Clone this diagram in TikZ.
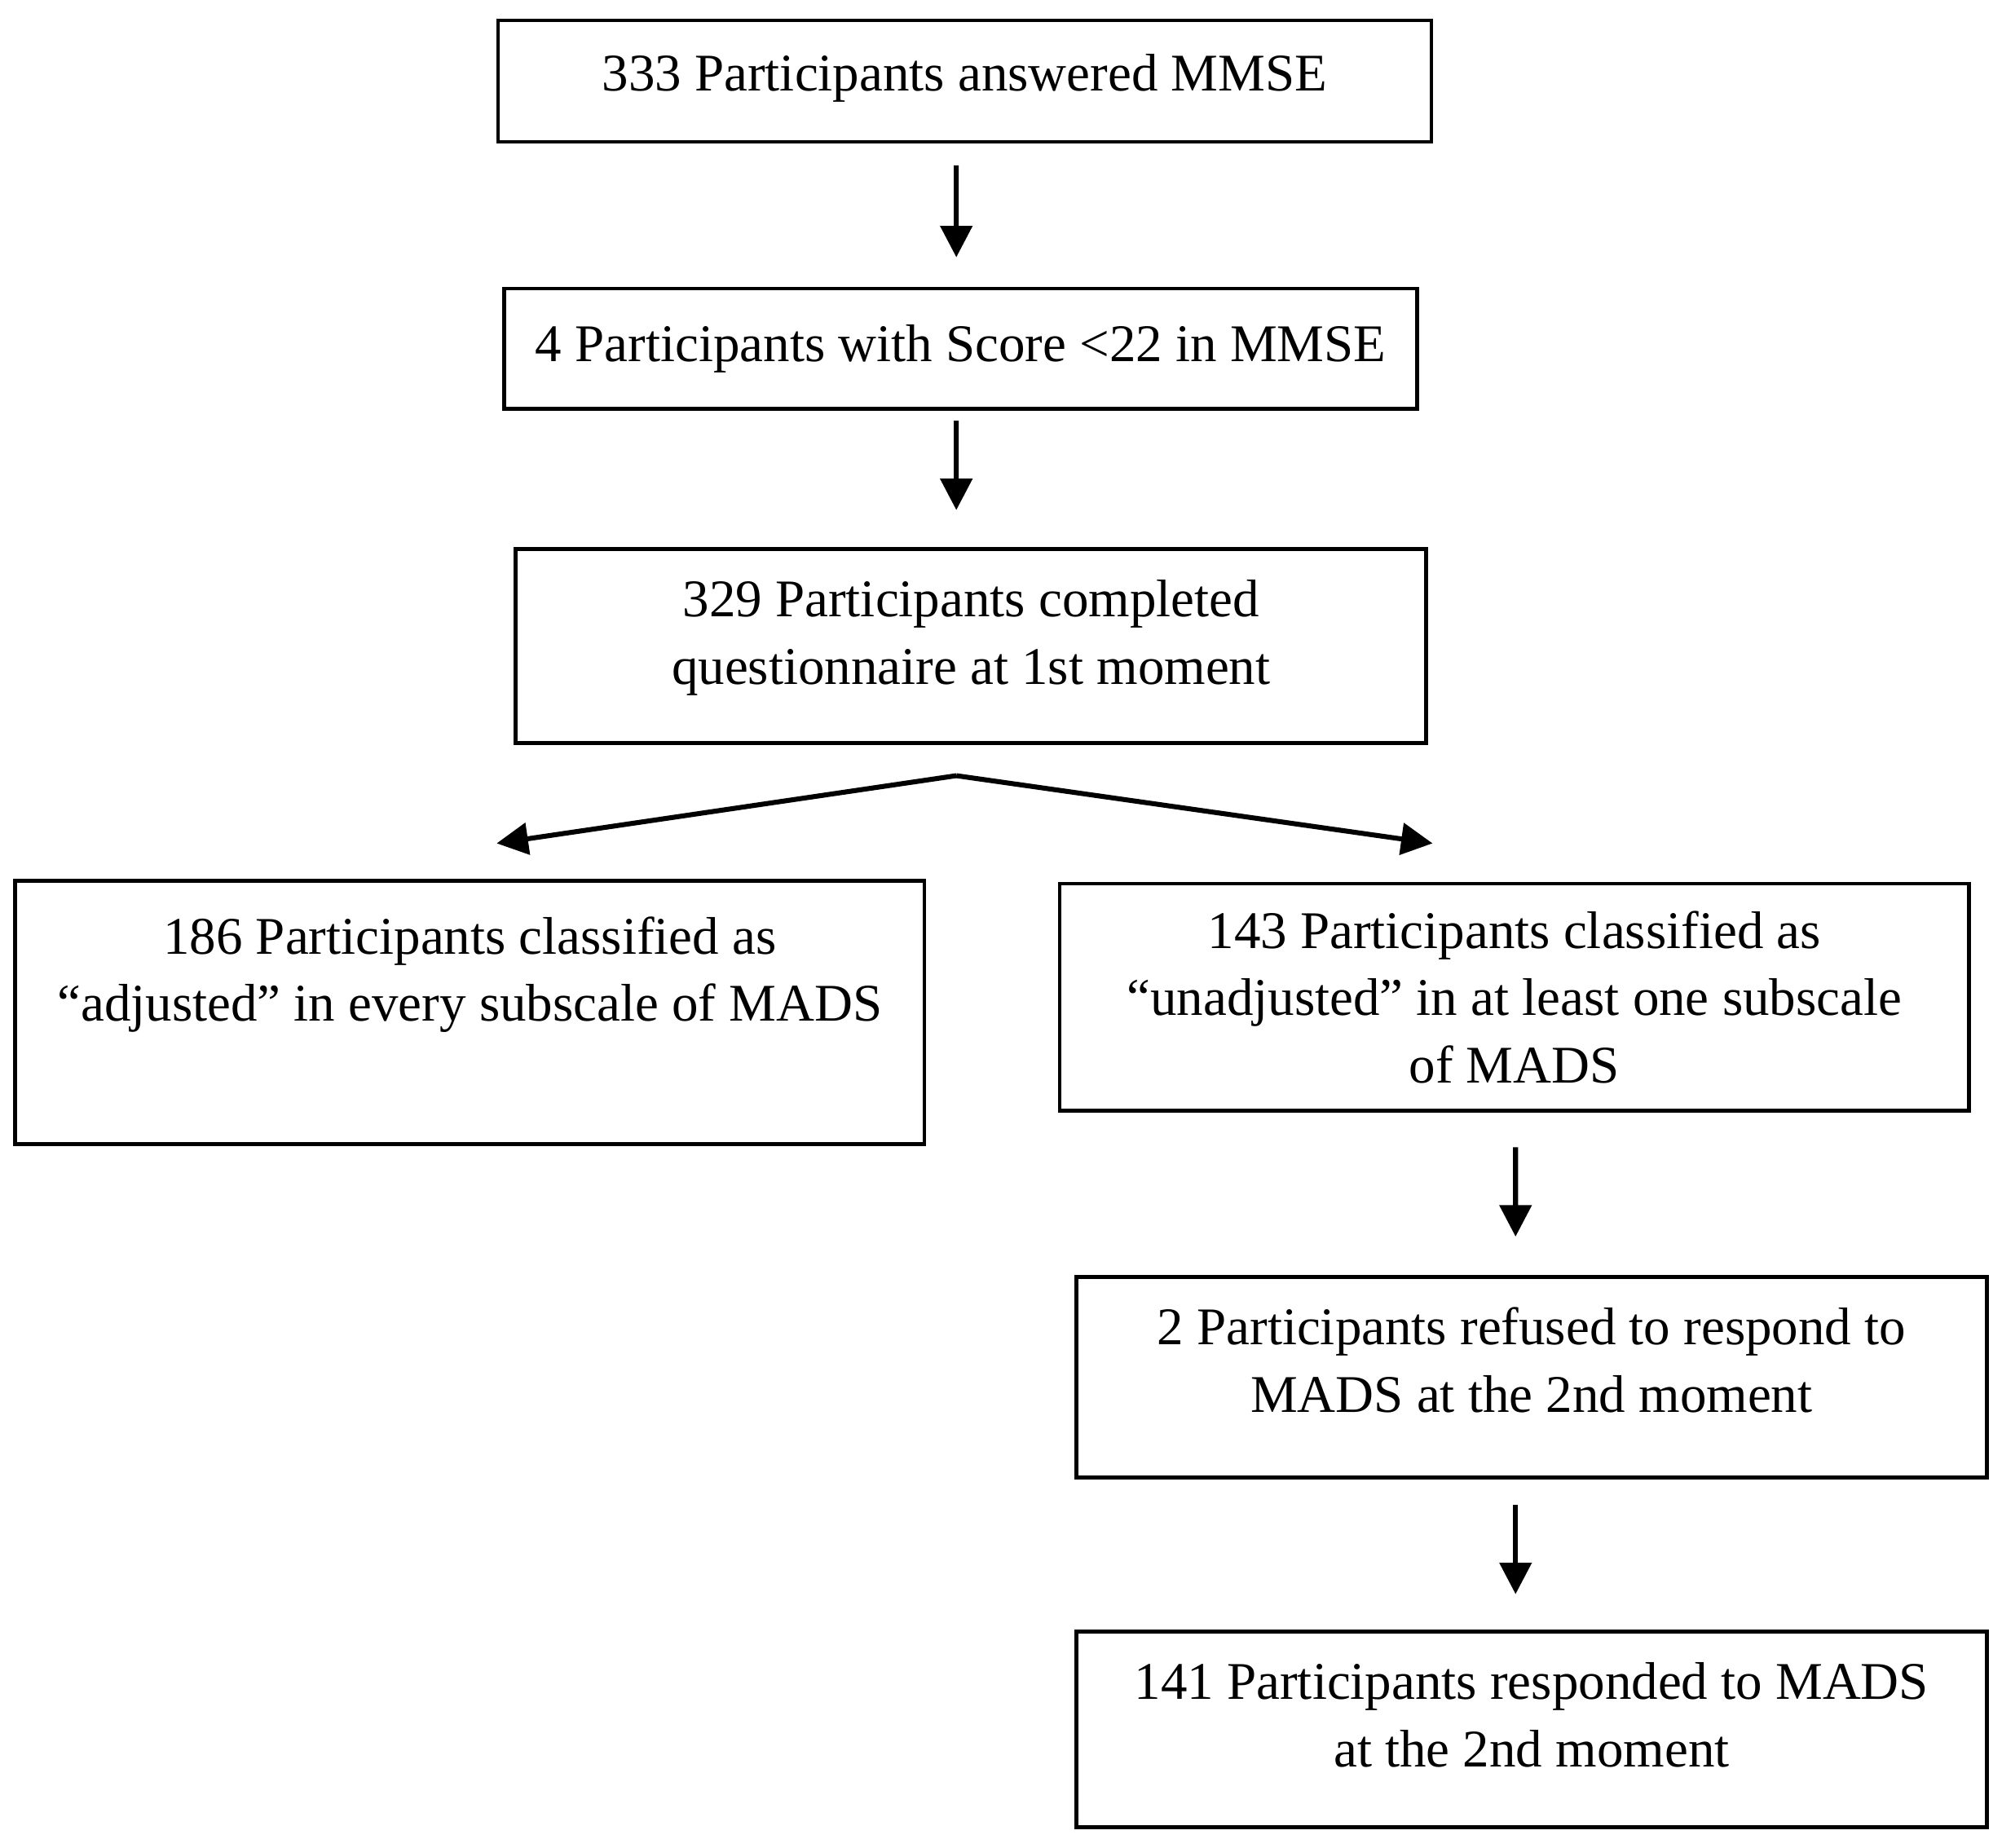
\documentclass[tikz,border=0pt]{standalone}
\usepackage{fontspec}
\setmainfont{Liberation Serif}
\usepackage{tikz}
\usetikzlibrary{positioning, arrows.meta, calc}

\begin{document}
\begin{tikzpicture}[
  every node/.style={font=\fontsize{11.8}{15}\selectfont},
  box/.style={rectangle, draw=black, line width=0.85pt, align=center,
              inner sep=0pt, minimum width=#1},
  arr/.style={-{Triangle[length=7pt, width=7pt]}, line width=1.1pt},
]
\useasboundingbox (0,0) rectangle (15.68,-14.47);

% screening
\node[box=7.31cm, minimum height=0.95cm, text depth=0.13cm] (mmse) at (7.555,-0.635)
  {333 Participants answered MMSE};
\node[box=7.15cm, minimum height=0.94cm] (score) at (7.525,-2.73)
  {4 Participants with Score <22 in MMSE};
\node[box=7.13cm, minimum height=1.52cm, text depth=0.22cm] (first) at (7.605,-5.06)
  {329 Participants completed\\questionnaire at 1st moment};

% classification
\node[box=7.12cm, minimum height=2.06cm] (adj) at (3.68,-7.93)
  {186 Participants classified as\\“adjusted” in every subscale of MADS\\ \strut};
\node[box=7.12cm, minimum height=1.78cm] (unadj) at (11.86,-7.81)
  {143 Participants classified as\\“unadjusted” in at least one subscale\\of MADS};

% second moment
\node[box=7.13cm, minimum height=1.57cm, text depth=0.27cm] (refused) at (11.995,-10.785)
  {2 Participants refused to respond to\\MADS at the 2nd moment};
\node[box=7.13cm, minimum height=1.53cm, text depth=0.23cm] (second) at (11.995,-13.545)
  {141 Participants responded to MADS\\at the 2nd moment};

% arrows
\draw[arr] ([xshift=-0.65mm, yshift=-1.7mm]mmse.south) -- ([xshift=-0.35mm, yshift=2.3mm]score.north);
\draw[arr] ([xshift=-0.35mm, yshift=-0.8mm]score.south) -- ([xshift=-1.15mm, yshift=2.9mm]first.north);
\coordinate (split) at ([xshift=-1.15mm, yshift=-2.4mm]first.south);
\draw[arr] (split) -- ([xshift=2.1mm, yshift=2.8mm]adj.north);
\draw[arr] (split) -- ([xshift=-6.4mm, yshift=3mm]unadj.north);
\draw[arr] ([xshift=0.1mm, yshift=-2.7mm]unadj.south) -- ([xshift=-1.25mm, yshift=3mm]refused.north);
\draw[arr] ([xshift=-1.25mm, yshift=-2mm]refused.south) -- ([xshift=-1.25mm, yshift=2.8mm]second.north);
\end{tikzpicture}
\end{document}
